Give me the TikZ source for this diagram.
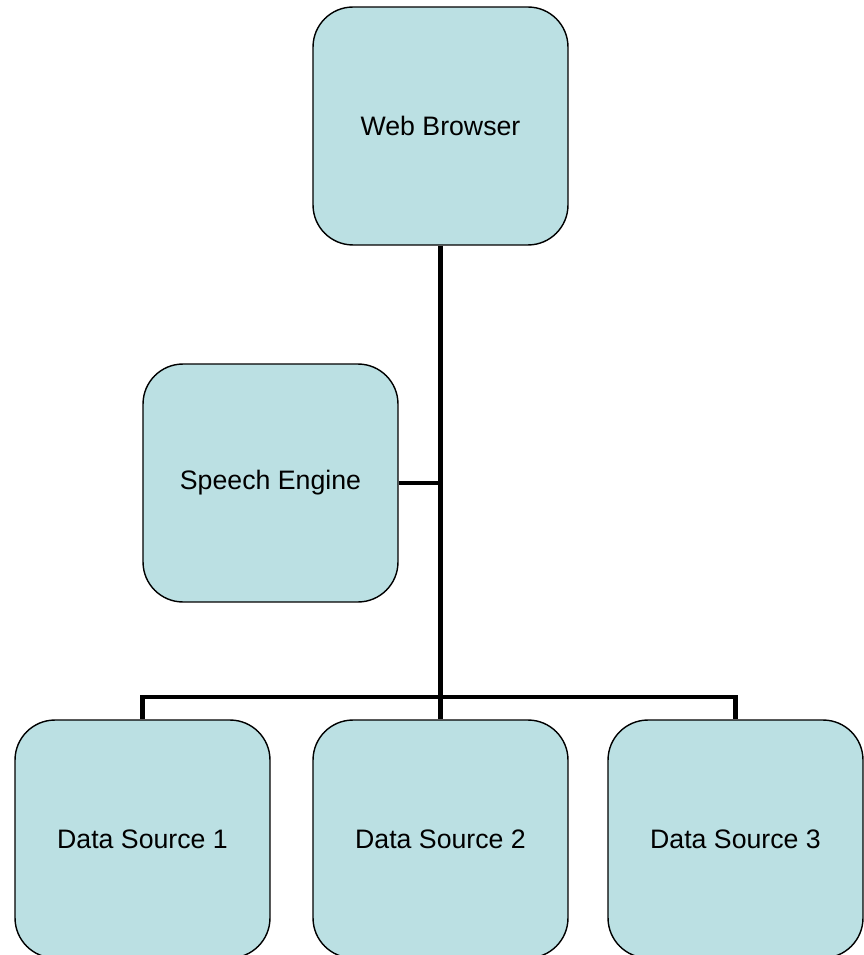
\documentclass[tikz,border=0pt]{standalone}
\usepackage{fontspec}
\setmainfont{Liberation Sans}
\usetikzlibrary{positioning}
\definecolor{boxfill}{RGB}{187,224,227}
\begin{document}
\begin{tikzpicture}[x=0.02cm,y=0.02cm]
    \tikzstyle{link} = [line width=2.4pt,draw=black]

    \tikzstyle{node}=[
      rectangle,
      rounded corners=0.8cm,
      draw=black,
      fill=boxfill,
      line width=0.8pt,
      anchor=center,
      minimum width=5.1cm,
      minimum height=4.76cm,
      font=\fontsize{15.2}{18}\selectfont,
    ]

    \useasboundingbox (0,0) rectangle (863,-955);

    \node[node] (browser) at (440.5,-126) {Web Browser};
    \node[node] (speech) at (270.5,-483) {Speech Engine};
    \node[node] (ds1) at (142.5,-839) {Data Source 1};
    \node[node] (ds2) at (440.5,-839) {Data Source 2};
    \node[node] (ds3) at (735.5,-839) {Data Source 3};

    \coordinate (bus) at (440.5,-697);

    \draw[link] (browser.south)--(bus);
    \draw[link] (speech.east)--(speech.east -| browser.south);
    \draw[link] (bus)-|(ds1.north);
    \draw[link] (bus)--(ds2.north);
    \draw[link] (bus)-|(ds3.north);
  \end{tikzpicture}
\end{document}
